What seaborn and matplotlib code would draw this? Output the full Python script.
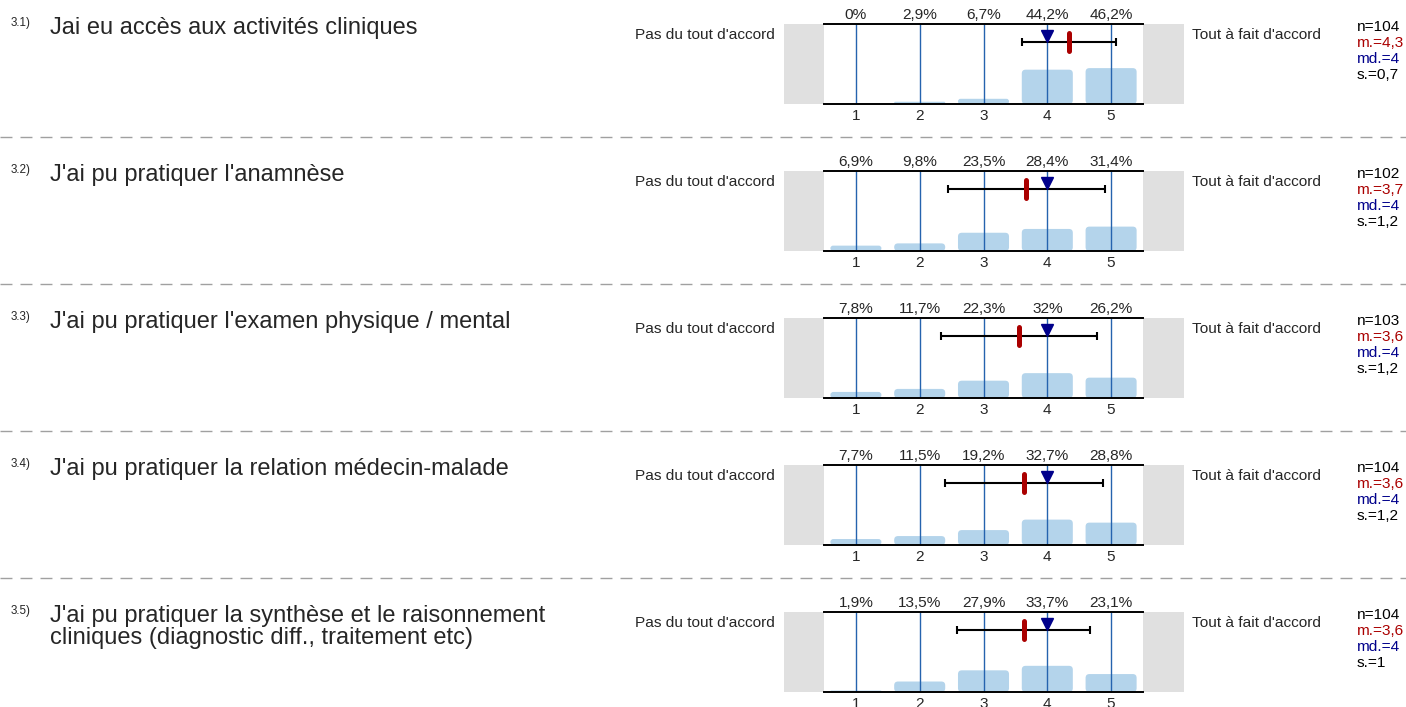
import matplotlib
matplotlib.use("Agg")
import matplotlib.pyplot as plt
from matplotlib.patches import Rectangle, FancyBboxPatch
from matplotlib.lines import Line2D
import seaborn as sns

# Data
numbers = ["3.1)", "3.2)", "3.3)", "3.4)", "3.5)"]
questions = [
    "Jai eu accès aux activités cliniques",
    "J'ai pu pratiquer l'anamnèse",
    "J'ai pu pratiquer l'examen physique / mental",
    "J'ai pu pratiquer la relation médecin-malade",
    "J'ai pu pratiquer la synthèse et le raisonnement\ncliniques (diagnostic diff., traitement etc)",
]
levels = [1, 2, 3, 4, 5]
pct_31 = [0, 2.9, 6.7, 44.2, 46.2]
pct_32 = [6.9, 9.8, 23.5, 28.4, 31.4]
pct_33 = [7.8, 11.7, 22.3, 32, 26.2]
pct_34 = [7.7, 11.5, 19.2, 32.7, 28.8]
pct_35 = [1.9, 13.5, 27.9, 33.7, 23.1]
n_resp = [104, 102, 103, 104, 104]
means = [4.34, 3.67, 3.56, 3.64, 3.63]
medians = [4, 4, 4, 4, 4]
sds = [0.73, 1.23, 1.22, 1.24, 1.04]
left_label = "Pas du tout d'accord"
right_label = "Tout à fait d'accord"

all_pct = [pct_31, pct_32, pct_33, pct_34, pct_35]

sns.set_style("white")
plt.rcParams['font.family'] = ['Liberation Sans', 'DejaVu Sans']

W, H = 1406, 707
fig = plt.figure(figsize=(W / 100, H / 100), dpi=100)

BAR = "#b4d4eb"
GRID = "#2563ae"
RED = "#aa0000"
NAVY = "#00008b"
GREY = "#e0e0e0"
FS = 11.1


def fx(px):
    return px / W


def fy(py):
    return 1 - py / H


def fmt(v):
    s = f"{v:.1f}".replace(".", ",")
    if s.endswith(",0"):
        s = s[:-2]
    return s


ax_left, ax_w, ax_h = 824, 319, 80
for i, pct in enumerate(all_pct):
    top = 24 + 147 * i
    ax = fig.add_axes([fx(ax_left), fy(top + ax_h), fx(ax_w), ax_h / H])

    sns.barplot(x=levels, y=pct, native_scale=True, width=0.8, color=BAR,
                saturation=1, ax=ax, zorder=1)
    ax.set_xlim(0.5, 5.5)
    ax.set_ylim(0, 103)

    # round the top corners of the bars
    aspect = (103 / ax_h) / (5 / ax_w)
    for p in list(ax.patches):
        x, y, w, h = p.get_x(), p.get_y(), p.get_width(), p.get_height()
        r = min(0.06, h / aspect / 2)
        rb = FancyBboxPatch((x, y), w, h, boxstyle=f"round,pad=0,rounding_size={r}",
                            mutation_aspect=aspect, fc=BAR, ec="none", zorder=1)
        p.remove()
        ax.add_patch(rb)

    ax.set_xticks(levels)
    ax.set_xticklabels([str(l) for l in levels])
    ax.set_yticks([])
    ax.tick_params(axis="x", length=0, pad=3.5, labelsize=FS)
    ax.grid(axis="x", color=GRID, lw=1)
    ax.set_axisbelow(False)
    ax.set_ylabel("")
    for side in ["left", "right"]:
        ax.spines[side].set_visible(False)
    for side in ["top", "bottom"]:
        ax.spines[side].set_color("black")
        ax.spines[side].set_linewidth(1.4)
        ax.spines[side].set_zorder(4)

    # grey end boxes
    ax.add_patch(Rectangle((-40 / ax_w, 0), 40 / ax_w, 1, transform=ax.transAxes,
                           fc=GREY, ec="none", clip_on=False))
    ax.add_patch(Rectangle((1, 0), 41 / ax_w, 1, transform=ax.transAxes,
                           fc=GREY, ec="none", clip_on=False))

    # percent labels on top
    for lvl, v in zip(levels, pct):
        ax.annotate(fmt(v) + "%", xy=(lvl, 1), xycoords=("data", "axes fraction"),
                    xytext=(0, 3.6), textcoords="offset points",
                    ha="center", va="baseline", fontsize=FS)

    # mean +/- sd, mean and median markers
    ax.errorbar(means[i], 80, xerr=sds[i], color="black", lw=1.5,
                capsize=3, capthick=1.5, zorder=5)
    ax.plot([means[i], means[i]], [68.5, 91.5], color=RED, lw=3.6,
            solid_capstyle="round", zorder=6)
    ax.plot(medians[i], 87.5, marker="v", ms=8.5, color=NAVY, zorder=7)

    # side labels
    fig.text(fx(775), fy(top + 11), left_label, ha="right", va="center", fontsize=FS)
    fig.text(fx(1192), fy(top + 11), right_label, ha="left", va="center", fontsize=FS)

    # stats
    stats = [(f"n={n_resp[i]}", "black"), (f"m.={fmt(means[i])}", RED),
             (f"md.={medians[i]}", NAVY), (f"s.={fmt(sds[i])}", "black")]
    for k, (txt, col) in enumerate(stats):
        fig.text(fx(1357), fy(top + 3 + 16 * k), txt, ha="left", va="center",
                 fontsize=FS, color=col)

    # question
    fig.text(fx(11), fy(top - 1), numbers[i], ha="left", va="center", fontsize=8.4)
    for k, line in enumerate(questions[i].split("\n")):
        fig.text(fx(50), fy(top + 4 + 22 * k), line, ha="left", va="center",
                 fontsize=17)

    # dashed separator
    if i < 4:
        yy = fy(top + 113)
        fig.add_artist(Line2D([0, 1], [yy, yy], transform=fig.transFigure,
                              color="#a0a0a0", lw=1, dashes=(8.6, 5.8)))

plt.savefig("out.png", dpi=100)
